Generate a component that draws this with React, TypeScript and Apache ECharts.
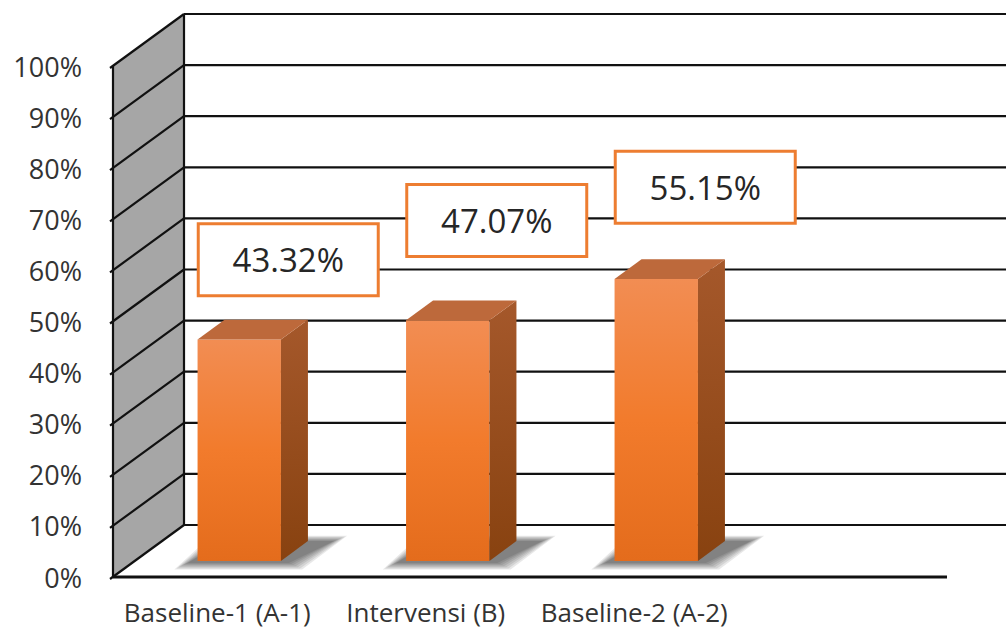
import React, { useEffect, useRef } from "react";
import * as echarts from "echarts";

const categories = ["Baseline-1 (A-1)", "Intervensi (B)", "Baseline-2 (A-2)", ""];
const values = [43.32, 47.07, 55.15];
const yTicks = [0, 10, 20, 30, 40, 50, 60, 70, 80, 90, 100];

// layout / style constants
const DX = 71;
const DY = -52;
const F0 = 0.31;
const F1 = 0.69;
const labelLift = [44, 64, 56];
const FONT = "'Open Sans', 'Noto Sans', sans-serif";

export default function App() {
  const ref = useRef<HTMLDivElement>(null);
  useEffect(() => {
    if (!ref.current) return;
    const chart = echarts.init(ref.current, undefined, { renderer: "svg" });

    const wallsRender = (params: any, api: any) => {
      const cs = params.coordSys;
      const x0 = cs.x;
      const x1 = cs.x + cs.width;
      const yb = api.coord([0, 0])[1];
      const yt = api.coord([0, 100])[1];
      const lineStyle = { stroke: "#111", lineWidth: 2.2 };
      const children: any[] = [];
      children.push({
        type: "polygon",
        shape: { points: [[x0, yb], [x0 + DX, yb + DY], [x0 + DX, yt + DY], [x0, yt]] },
        style: { fill: "#a6a6a6" },
      });
      yTicks.forEach((t) => {
        const y = api.coord([0, t])[1];
        children.push({
          type: "line",
          shape: { x1: x0 + DX, y1: y + DY, x2: x1 + DX, y2: y + DY },
          style: lineStyle,
        });
        children.push({
          type: "line",
          shape: { x1: x0 - 3, y1: y + 2, x2: x0 + DX, y2: y + DY },
          style: lineStyle,
        });
      });
      children.push({ type: "line", shape: { x1: x0, y1: yt, x2: x0, y2: yb }, style: lineStyle });
      children.push({ type: "line", shape: { x1: x0 + DX, y1: yt + DY, x2: x0 + DX, y2: yb + DY }, style: lineStyle });
      children.push({ type: "line", shape: { x1: x0, y1: yb, x2: x1, y2: yb }, style: { stroke: "#111", lineWidth: 3 } });
      return { type: "group", children };
    };

    const barsRender = (params: any, api: any) => {
      const i = api.value(0);
      const v = api.value(1);
      const [cx, yv] = api.coord([i, v]);
      const y0 = api.coord([i, 0])[1];
      const hw = api.size([1, 0])[0] * 0.2;
      const dx0 = DX * F0, dy0 = DY * F0, dx1 = DX * F1, dy1 = DY * F1;
      const L = cx - hw, R = cx + hw;
      const children: any[] = [];
      // soft shadow: stacked translucent layers
      const layers = 7;
      for (let k = 0; k < layers; k++) {
        const g = (layers - 1 - k) * 2.2;
        children.push({
          type: "polygon",
          shape: {
            points: [
              [L + dx0 - 10 - g, y0 + dy0 + 2 + g * 0.5],
              [R + dx0 + 8 + g, y0 + dy0 + 2 + g * 0.5],
              [R + dx1 + 26 + g, y0 + dy1 - g * 0.4],
              [L + dx1 - g, y0 + dy1 - g * 0.4],
            ],
          },
          style: { fill: "rgba(0,0,0,0.09)" },
        });
      }
      // front face
      children.push({
        type: "rect",
        shape: { x: L + dx0, y: yv + dy0, width: R - L, height: y0 - yv },
        style: {
          fill: new echarts.graphic.LinearGradient(0, 0, 0, 1, [
            { offset: 0, color: "#f28d53" },
            { offset: 0.5, color: "#f27b2c" },
            { offset: 1, color: "#e46c1c" },
          ]),
        },
      });
      // side face
      children.push({
        type: "polygon",
        shape: {
          points: [
            [R + dx0, yv + dy0],
            [R + dx1, yv + dy1],
            [R + dx1, y0 + dy1],
            [R + dx0, y0 + dy0],
          ],
        },
        style: {
          fill: new echarts.graphic.LinearGradient(0, 0, 0, 1, [
            { offset: 0, color: "#a5582b" },
            { offset: 1, color: "#884210" },
          ]),
        },
      });
      // top face
      children.push({
        type: "polygon",
        shape: {
          points: [
            [L + dx0, yv + dy0],
            [R + dx0, yv + dy0],
            [R + dx1, yv + dy1],
            [L + dx1, yv + dy1],
          ],
        },
        style: { fill: "#bd693b" },
      });
      // label box
      const bw = 180, bh = 72;
      const bcx = cx + DX;
      const bcy = yv + DY - labelLift[i];
      children.push({
        type: "rect",
        shape: { x: bcx - bw / 2, y: bcy - bh / 2, width: bw, height: bh },
        style: { fill: "#fff", stroke: "#ED7D31", lineWidth: 3 },
      });
      children.push({
        type: "text",
        x: bcx,
        y: bcy,
        style: {
          text: v.toFixed(2) + "%",
          fontSize: 33,
          fontFamily: FONT,
          fill: "#262626",
          align: "center",
          verticalAlign: "middle",
        },
      });
      return { type: "group", children };
    };

    chart.setOption({
      animation: false,
      grid: { left: 113, right: 59, top: 66, bottom: 53 },
      xAxis: {
        type: "category",
        data: categories,
        axisLine: { show: false },
        axisTick: { show: false },
        splitLine: { show: false },
        axisLabel: { interval: 0, fontSize: 26, fontFamily: FONT, color: "#333", margin: 22 },
      },
      yAxis: {
        type: "value",
        min: 0,
        max: 100,
        interval: 10,
        axisLine: { show: false },
        axisTick: { show: false },
        splitLine: { show: false },
        axisLabel: {
          formatter: "{value}%",
          fontSize: 27,
          fontFamily: FONT,
          color: "#333",
          margin: 31,
        },
      },
      series: [
        { type: "custom", renderItem: wallsRender, data: [[0, 0]], z: 1, silent: true },
        {
          type: "custom",
          renderItem: barsRender,
          data: values.map((v, i) => [i, v]),
          z: 2,
          silent: true,
        },
      ],
    });
    return () => chart.dispose();
  }, []);
  return (
    <div
      ref={ref}
      style={{ position: "fixed", left: 0, top: 0, width: 1006, height: 630, background: "#fff" }}
    />
  );
}
